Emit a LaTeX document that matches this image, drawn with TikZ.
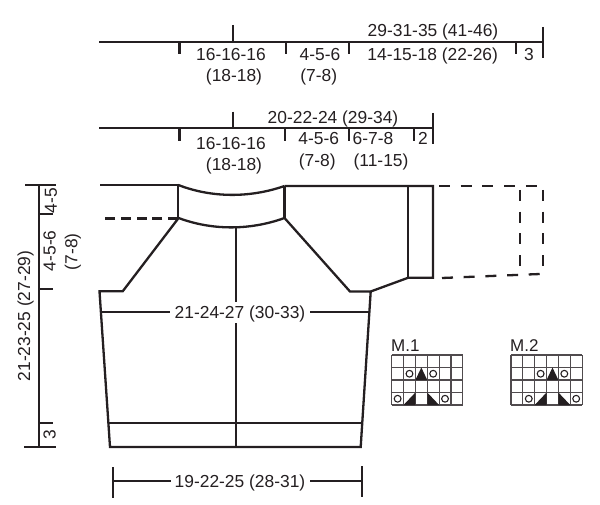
\documentclass[tikz,border=0pt]{standalone}
\usepackage{fontspec}
\setmainfont{Liberation Sans}
\definecolor{ink}{rgb}{0.14,0.12,0.13}
\tikzset{l/.style={font=\fontsize{17.4}{17.4}\selectfont,text=ink,inner sep=0pt,text height=12.5pt,text depth=0pt}}
\tikzset{m/.style={l,font=\fontsize{17}{17}\selectfont,anchor=west}}
\tikzset{r/.style={l,rotate=90}}
\tikzset{thick line/.style={ink,line width=2.3pt}}
\tikzset{thin line/.style={ink,line width=2pt}}
\tikzset{grid line/.style={ink!80,line width=1.1pt}}
\tikzset{long dash/.style={thick line,dash pattern=on 11pt off 10.7pt}}
\begin{document}
\begin{tikzpicture}[x=1pt,y=-1pt]
  \useasboundingbox (0,0) rectangle (600,505);
  \draw[thick line] (99,42) -- (543,42);
  \draw[thick line] (232.7,25) -- (232.7,42);
  \draw[thick line] (543,27) -- (543,58);
  \foreach \x in {179.5,285.7,348.7,515.7} \draw[thick line] (\x,42) -- (\x,54);
  \node[l] (sleeve) at (433,30.7) {29-31-35 (41-46)};
  \node[l] (a1) at (231,54) {16-16-16};
  \node[l] (a2) at (234,75) {(18-18)};
  \node[l] (b1) at (320,54) {4-5-6};
  \node[l] (b2) at (318.7,75) {(7-8)};
  \node[l] (c1) at (432.7,54) {14-15-18 (22-26)};
  \node[l] (d1) at (529,54) {3};
  \draw[thick line] (99,128) -- (432.7,128);
  \draw[thick line] (232.7,111.7) -- (232.7,128);
  \draw[thick line] (432.7,113) -- (432.7,144);
  \foreach \x in {179.5,285,348.7,413.7} \draw[thick line] (\x,128) -- (\x,141);
  \node[l] (arm) at (333,117.3) {20-22-24 (29-34)};
  \node[l] (e1) at (231,143) {16-16-16};
  \node[l] (e2) at (234,164) {(18-18)};
  \node[l] (f1) at (318.7,138) {4-5-6};
  \node[l] (f2) at (317.3,160) {(7-8)};
  \node[l] (g1) at (373,138) {6-7-8};
  \node[l] (g2) at (381,160) {(11-15)};
  \node[l] (h1) at (423,138) {2};
  \draw[thick line] (39.3,185) -- (39.3,447);
  \draw[thick line] (25,185) -- (56,185);
  \draw[thick line] (24,447) -- (55.7,447);
  \foreach \y in {214.3,289,422.7} \draw[thick line] (39.3,\y) -- (53,\y);
  \node[r] (i1) at (50.7,200.7) {4-5};
  \node[r] (i2) at (49.3,250.7) {4-5-6};
  \node[r] (i3) at (71,251.7) {(7-8)};
  \node[r] (i4) at (24,316) {21-23-25 (27-29)};
  \node[r] (i5) at (49.3,435) {3};
  \draw[thick line] (100,185) -- (178.3,185) -- (178.3,218.5);
  \draw[thick line,dash pattern=on 10pt off 5.7pt] (178,218.5) -- (101.7,218.5);
  \draw[thick line] (178.3,185) .. controls (212,198) and (250,198) .. (284.5,186);
  \draw[thick line] (178.6,218) .. controls (212,230.5) and (250,230.5) .. (284.5,218);
  \draw[thick line] (284.5,186) -- (284.5,218);
  \draw[thick line] (178.6,218) -- (122.7,291.3) -- (99.5,291.3) -- (110,447) -- (360.7,447) -- (370.7,291.5) -- (350,291.5) -- (284.5,218);
  \draw[thick line] (370.7,291.5) -- (408.3,277.7) -- (433,277.7) -- (433,186) -- (284.5,186);
  \draw[thick line] (408.3,186) -- (408.3,277.7);
  \draw[thin line] (235.7,227) -- (235.7,447);
  \draw[thin line] (108.5,423.3) -- (362,423.3);
  \draw[long dash] (439,186) -- (543,186);
  \draw[long dash] (543,190) -- (543,267);
  \draw[long dash] (520.3,190) -- (520.3,267);
  \draw[long dash] (442,278) -- (540,274);
  \draw[thin line] (101,312) -- (369.7,312);
  \node[l,fill=white,inner xsep=5pt,inner ysep=4.25pt] (width) at (240,312.3) {21-24-27 (30-33)};
  \node[l] (hem) at (240,481) {19-22-25 (28-31)};
  \draw[thick line] (113.3,467) -- (113.3,498);
  \draw[thick line] (362.3,466) -- (362.3,497);
  \draw[thick line] (113.3,481) -- (170.7,481);
  \draw[thick line] (310,481) -- (362.3,481);
  \node[m] (m1) at (391,345) {M.1};
  \node[m] (m2) at (510,345) {M.2};
  \foreach \gx/\o in {391.7/0,511/1}{
    \begin{scope}[shift={(\gx,355)}]
      \foreach \c in {0,...,6} \draw[grid line] (\c*11.85,0) -- (\c*11.85,50);
      \foreach \d in {0,...,4} \draw[grid line] (0,\d*12.5) -- (71.1,\d*12.5);
      \foreach \c in {1,3}
        \draw[grid line,ink] ({(\c+\o+.5)*11.85},18.75) circle (3.4);
      \foreach \c in {0,4}
        \draw[grid line,ink] ({(\c+\o+.5)*11.85},43.75) circle (3.4);
      \fill[ink] ({(2+\o)*11.85},25) -- ({(2.5+\o)*11.85},12.5) -- ({(3+\o)*11.85},25) -- cycle;
      \fill[ink] ({(1+\o)*11.85},50) -- ({(2+\o)*11.85},37.5) -- ({(2+\o)*11.85},50) -- cycle;
      \fill[ink] ({(3+\o)*11.85},50) -- ({(3+\o)*11.85},37.5) -- ({(4+\o)*11.85},50) -- cycle;
    \end{scope}
  }
\end{tikzpicture}
\end{document}
